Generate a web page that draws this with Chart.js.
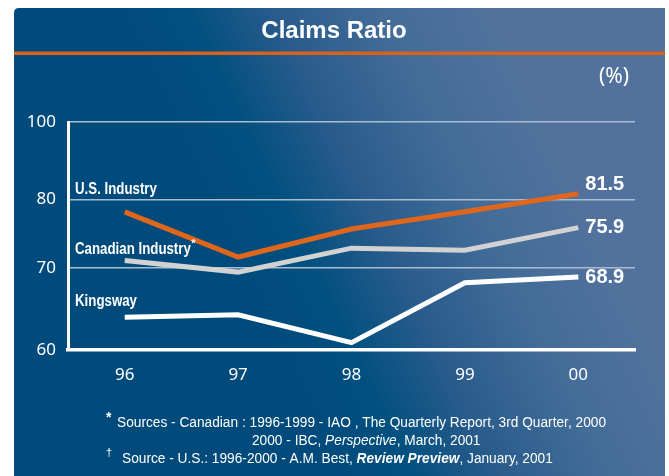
<!DOCTYPE html>
<html><head><meta charset="utf-8">
<script src="https://cdn.jsdelivr.net/npm/chart.js@4.4.0/dist/chart.umd.min.js"></script>
<style>
html,body{margin:0;padding:0;background:#fff;}
#wrap{width:669px;height:476px;position:relative;overflow:hidden;}
canvas{display:block;}
</style>
</head><body>
<div id="wrap"><canvas id="c" width="669" height="476"></canvas></div>
<script>
// ---- data ----
const years = ['96', '97', '98', '99', '00'];
const usIndustry = [78.2, 71.6, 75.7, 78.2, 81.5];
const canadianIndustry = [71.1, 69.5, 72.9, 72.6, 75.9];
const kingsway = [64.0, 64.3, 60.9, 68.2, 68.9];
const yTickValues = [60, 70, 80, 100];
const seriesNames = ['U.S. Industry', 'Canadian Industry', 'Kingsway'];
const chartTitle = 'Claims Ratio';
const unitLabel = '(%)';

// ---- piecewise (non-uniform) value axis, as in the original artwork ----
const knotValues = [60, 70, 80, 100];
const knotFractions = [0, 0.3596, 0.6601, 1];
function toFrac(v) {
  const k = knotValues, f = knotFractions, n = k.length - 1;
  if (v <= k[0]) return f[0] + (v - k[0]) / (k[1] - k[0]) * (f[1] - f[0]);
  for (let i = 1; i <= n; i++) {
    if (v <= k[i]) return f[i - 1] + (v - k[i - 1]) / (k[i] - k[i - 1]) * (f[i] - f[i - 1]);
  }
  return f[n] + (v - k[n]) / (k[n] - k[n - 1]) * (f[n] - f[n - 1]);
}
function fromFrac(d) {
  const k = knotValues, f = knotFractions, n = k.length - 1;
  for (let i = 1; i <= n; i++) {
    if (d <= f[i] || i === n) return k[i - 1] + (d - f[i - 1]) / (f[i] - f[i - 1]) * (k[i] - k[i - 1]);
  }
}
class PiecewiseScale extends Chart.LinearScale {
  getPixelForValue(value) { return this.getPixelForDecimal(toFrac(value)); }
  getValueForPixel(pixel) { return fromFrac(this.getDecimalForPixel(pixel)); }
}
PiecewiseScale.id = 'piecewise';
PiecewiseScale.defaults = Chart.LinearScale.defaults;
Chart.register(PiecewiseScale);

// ---- decoration plugin ----
function drawRuns(ctx, runs, x, y, sx) {
  ctx.save();
  ctx.translate(x, y);
  ctx.scale(sx, 1);
  let cx = 0;
  for (const r of runs) {
    ctx.font = r.font;
    ctx.fillText(r.text, cx, 0);
    cx += ctx.measureText(r.text).width;
  }
  ctx.restore();
}
function runsWidth(ctx, runs) {
  let w = 0;
  for (const r of runs) { ctx.font = r.font; w += ctx.measureText(r.text).width; }
  return w;
}
function drawCondensed(ctx, text, x, y, sx) {
  ctx.save(); ctx.translate(x, y); ctx.scale(sx, 1); ctx.fillText(text, 0, 0); ctx.restore();
}

const decor = {
  id: 'decor',
  beforeDraw(chart) {
    const ctx = chart.ctx;
    ctx.save();
    ctx.fillStyle = '#ffffff';
    ctx.fillRect(0, 0, chart.width, chart.height);
    const g = ctx.createLinearGradient(250, 300, 560, 150);
    g.addColorStop(0, '#004b7c');
    g.addColorStop(0.2, '#01507f');
    g.addColorStop(0.42, '#285b8b');
    g.addColorStop(0.7, '#426c98');
    g.addColorStop(1, '#52729d');
    ctx.fillStyle = g;
    ctx.beginPath();
    const L = 14, T = 8, R = 665, B = 480, r = 5;
    ctx.moveTo(L + r, T);
    ctx.lineTo(R, T);
    ctx.lineTo(R, B);
    ctx.lineTo(L, B);
    ctx.lineTo(L, T + r);
    ctx.quadraticCurveTo(L, T, L + r, T);
    ctx.closePath();
    ctx.fill();
    // orange rule under the title
    ctx.fillStyle = '#d9611c';
    ctx.fillRect(L, 51.5, R - L, 3.5);
    // title
    ctx.fillStyle = '#ffffff';
    ctx.font = 'bold 24px "Liberation Sans", Arial, sans-serif';
    ctx.textAlign = 'center';
    ctx.textBaseline = 'alphabetic';
    ctx.fillText(chartTitle, 334, 37.5);
    // unit
    ctx.font = '21px "Noto Sans", sans-serif';
    ctx.textAlign = 'right';
    ctx.textBaseline = 'middle';
    ctx.fillText(unitLabel, 629, 77);
    ctx.restore();
  },
  afterDatasetsDraw(chart) {
    const ctx = chart.ctx;
    const area = chart.chartArea;
    ctx.save();
    ctx.fillStyle = '#ffffff';
    ctx.textAlign = 'left';
    ctx.textBaseline = 'alphabetic';
    ctx.font = 'bold 16px "Liberation Sans", Arial, sans-serif';
    const lx = area.left + 7;
    drawCondensed(ctx, seriesNames[0], lx, 193.5, 0.83);
    drawCondensed(ctx, seriesNames[1], lx, 253.5, 0.83);
    const cw = ctx.measureText(seriesNames[1]).width * 0.83;
    ctx.font = 'bold 11px "Liberation Sans", Arial, sans-serif';
    ctx.fillText('*', lx + cw + 0.5, 247);
    ctx.font = 'bold 16px "Liberation Sans", Arial, sans-serif';
    drawCondensed(ctx, seriesNames[2], lx, 306, 0.83);
    // end value labels
    ctx.font = 'bold 20px "Liberation Sans", Arial, sans-serif';
    ctx.textBaseline = 'middle';
    const offs = [-9, 0, 0];
    chart.data.datasets.forEach((ds, i) => {
      const meta = chart.getDatasetMeta(i);
      const last = meta.data[meta.data.length - 1];
      const v = ds.data[ds.data.length - 1];
      ctx.fillText(v.toFixed(1), last.x + 7, last.y + offs[i]);
    });
    ctx.restore();
  },
  afterDraw(chart) {
    const ctx = chart.ctx;
    ctx.save();
    ctx.fillStyle = '#ffffff';
    ctx.textAlign = 'left';
    ctx.textBaseline = 'middle';
    const reg = '14px "Liberation Sans", Arial, sans-serif';
    const ital = 'italic 14px "Liberation Sans", Arial, sans-serif';
    const bital = 'italic bold 14px "Liberation Sans", Arial, sans-serif';
    const line1 = [{ text: 'Sources - Canadian : 1996-1999 - IAO , The Quarterly Report, 3rd Quarter, 2000', font: reg }];
    const line2 = [{ text: '2000 - IBC, ', font: reg }, { text: 'Perspective', font: ital }, { text: ', March, 2001', font: reg }];
    const line3 = [{ text: 'Source - U.S.: 1996-2000 - A.M. Best, ', font: reg }, { text: 'Review Preview', font: bital }, { text: ', January, 2001', font: reg }];
    const sx = 489 / runsWidth(ctx, line1);
    drawRuns(ctx, line1, 117, 423, sx);
    drawRuns(ctx, line2, 252, 441, sx);
    drawRuns(ctx, line3, 122, 459.5, sx);
    ctx.font = 'bold 14px "Liberation Sans", Arial, sans-serif';
    ctx.fillText('*', 106, 418);
    ctx.font = '11px "Liberation Sans", Arial, sans-serif';
    ctx.fillText('\u2020', 106, 453);
    ctx.restore();
  }
};

new Chart(document.getElementById('c'), {
  type: 'line',
  data: {
    labels: years,
    datasets: [
      { label: seriesNames[0], data: usIndustry, borderColor: '#e0661c', order: 1 },
      { label: seriesNames[1], data: canadianIndustry, borderColor: '#d2d2d2', order: 2 },
      { label: seriesNames[2], data: kingsway, borderColor: '#ffffff', order: 3 }
    ]
  },
  options: {
    responsive: false,
    animation: false,
    devicePixelRatio: 1,
    layout: { padding: { top: 122, right: 34, left: 0, bottom: 0 } },
    elements: {
      line: { borderWidth: 5, tension: 0, borderJoinStyle: 'miter', borderCapStyle: 'butt', fill: false },
      point: { radius: 0, hoverRadius: 0 }
    },
    plugins: { legend: { display: false }, title: { display: false }, tooltip: { enabled: false } },
    events: [],
    scales: {
      x: {
        type: 'category',
        offset: true,
        grid: { display: false, drawTicks: false },
        border: { display: true, color: '#ffffff', width: 3.5 },
        ticks: { color: '#ffffff', font: { family: '"Noto Sans", sans-serif', size: 17 }, padding: 15 },
        afterFit(s) { s.height = 126; }
      },
      y: {
        type: 'piecewise',
        min: 60,
        max: 100,
        afterBuildTicks(axis) { axis.ticks = yTickValues.map(v => ({ value: v })); },
        grid: { color: '#a9bdd2', lineWidth: 1.5, drawTicks: false },
        border: { display: true, color: '#ffffff', width: 3 },
        ticks: { color: '#ffffff', font: { family: '"Noto Sans", sans-serif', size: 17 }, padding: 12 },
        afterFit(s) { s.width = 68; }
      }
    }
  },
  plugins: [decor]
});
</script>
</body></html>
